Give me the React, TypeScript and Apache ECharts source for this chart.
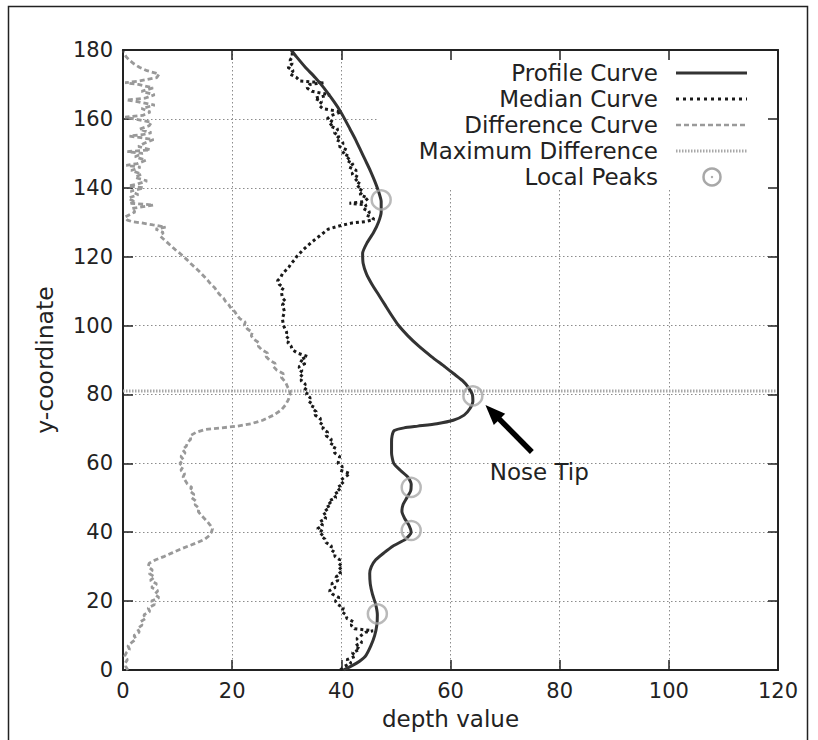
import React, { useEffect, useRef } from "react";
import * as echarts from "echarts";

// Axis ticks
const xTicks = [0, 20, 40, 60, 80, 100, 120];
const yTicks = [0, 20, 40, 60, 80, 100, 120, 140, 160, 180];

// Profile curve: depth value at each y-coordinate
const profileY = [0, 2, 4, 7, 10, 13, 16, 19, 22, 25, 28, 30, 32, 34, 36, 38, 40, 42, 44, 46, 48, 50, 52, 54, 56, 58, 60, 63, 66, 68, 69.5, 70.3, 70.8, 71.5, 72.5, 74, 76, 78, 80, 82, 84, 86, 88, 91, 94, 97, 100, 103, 106, 109, 112, 115, 118, 121, 124, 127, 130, 133, 136, 139, 142, 145, 148, 151, 154, 157, 160, 163, 166, 169, 172, 175, 178, 180];
const profileX = [40.4, 42.8, 44.4, 45.4, 46.1, 46.5, 46.6, 46.3, 45.7, 45.3, 45.2, 45.5, 46.3, 47.8, 49.5, 51.8, 52.8, 52.4, 51.6, 51.1, 51.3, 52.0, 52.7, 52.8, 52.2, 50.8, 49.6, 49.2, 49.2, 49.3, 49.7, 51.5, 54.0, 57.5, 60.5, 62.5, 63.6, 64.1, 64.0, 63.3, 62.2, 60.6, 59.0, 56.5, 54.2, 52.2, 50.5, 49.2, 48.0, 46.8, 45.6, 44.6, 44.0, 43.9, 44.7, 45.9, 46.8, 47.3, 47.3, 46.8, 46.1, 45.3, 44.4, 43.5, 42.6, 41.6, 40.6, 39.5, 38.2, 36.8, 35.2, 33.4, 31.8, 30.8];

// Median curve
const medianY = [0, 1, 2, 3, 4, 5, 6, 7, 8, 9, 10, 11, 11.4, 12, 13, 14, 15, 16, 17, 18, 19, 20, 21, 22, 23, 24, 25, 26, 27, 28, 29, 30, 31, 32, 33, 34, 35, 36, 37, 38, 39, 40, 41, 42, 43, 44, 45, 46, 47, 48, 49, 50, 51, 52, 53, 54, 55, 56, 57, 58, 59, 60, 62, 63, 64, 65, 66, 67, 68, 69, 70, 71, 72, 73, 74, 75, 76, 77, 78, 79, 80, 81, 82, 83, 84, 85, 86, 87, 88, 89, 90, 91, 92, 93, 94, 95, 96, 97, 98, 100, 102, 104, 106, 107, 108, 110, 111, 112, 113, 114, 115, 116, 117, 118, 119, 120, 121, 122, 123, 124, 125, 126, 127, 128, 129, 129.8, 130.2, 130.8, 131.5, 132, 133, 134, 135, 135.5, 136, 137, 138, 139, 140, 141, 142, 143, 144, 145, 146, 147, 148, 149, 150, 151, 152, 153, 154, 155, 156, 157, 158, 159, 160, 161, 162, 163, 164, 165, 166, 167, 168, 169, 170, 170.5, 171, 172, 173, 174, 175, 176, 177, 178, 180];
const medianX = [39.8, 40.5, 41.8, 41.0, 42.6, 42.0, 43.4, 42.5, 43.8, 42.8, 43.6, 44.5, 45.8, 42.4, 41.8, 42.2, 41.0, 40.9, 40.0, 40.4, 39.4, 38.9, 39.6, 38.4, 37.8, 38.9, 38.2, 39.4, 39.0, 39.9, 39.4, 40.2, 39.5, 39.7, 38.8, 38.9, 38.0, 38.2, 37.2, 37.0, 36.2, 36.8, 35.6, 36.6, 36.0, 37.2, 36.6, 37.5, 37.0, 38.2, 37.6, 39.0, 38.6, 39.8, 39.2, 40.4, 39.8, 40.6, 41.6, 39.8, 40.2, 39.4, 39.7, 38.8, 38.6, 38.9, 37.8, 38.2, 37.2, 37.5, 36.6, 36.8, 35.9, 36.2, 35.2, 35.4, 34.6, 34.9, 34.0, 34.3, 33.6, 33.9, 33.1, 33.4, 32.6, 33.0, 32.3, 32.8, 32.2, 33.4, 32.4, 33.8, 32.0, 31.0, 30.8, 30.2, 30.5, 29.8, 30.0, 29.4, 29.2, 29.6, 29.2, 29.8, 29.2, 29.0, 29.4, 28.6, 28.3, 28.9, 29.2, 29.8, 30.4, 30.8, 31.4, 31.8, 32.4, 33.0, 33.7, 34.4, 35.2, 36.0, 36.8, 37.6, 39.8, 42.0, 44.5, 46.0, 45.5, 44.6, 45.2, 44.0, 44.6, 41.5, 44.2, 44.9, 43.4, 44.0, 42.9, 43.6, 42.5, 43.2, 41.9, 42.8, 41.4, 42.2, 40.9, 41.6, 40.2, 41.0, 39.6, 40.4, 39.0, 39.6, 38.7, 39.4, 37.8, 38.6, 37.4, 38.2, 40.0, 36.6, 35.9, 36.4, 35.1, 37.9, 34.6, 33.7, 34.2, 36.8, 32.4, 31.8, 30.6, 31.2, 30.2, 31.0, 30.6, 31.0, 31.0];

// Difference curve (profile minus median)
const diffY = [0, 1, 2, 3, 4, 5, 6, 7, 8, 9, 10, 11, 12, 13, 14, 15, 16, 17, 18, 19, 20, 21, 22, 23, 24, 25, 26, 27, 28, 29, 30, 31, 32, 33, 34, 35, 36, 37, 38, 39, 40, 41, 42, 43, 44, 45, 46, 47, 48, 49, 50, 51, 52, 53, 54, 55, 56, 57, 58, 59, 60, 61, 62, 63, 64, 65, 66, 67, 68, 69, 69.8, 70.3, 70.8, 71.5, 72.5, 74, 75.5, 77, 78.5, 80, 81, 82, 83.5, 85, 86, 87, 88, 89, 90, 91, 92, 93, 94, 95, 96, 97, 98, 99, 100, 101, 102, 103, 104, 105, 106, 107, 108, 109, 110, 111, 112, 113, 114, 115, 116, 117, 118, 119, 120, 121, 122, 123, 124, 125, 126, 127, 128, 128.6, 129.2, 129.8, 130.2, 130.6, 131.5, 132, 133, 134, 135, 135.5, 136, 137, 138, 139, 140, 140.5, 141, 142, 143, 144, 145, 146, 146.5, 147, 148, 149, 150, 150.5, 151, 152, 153, 154, 155, 155.5, 156, 157, 158, 159, 160, 160.5, 161, 162, 163, 164, 165, 165.5, 166, 167, 168, 169, 170, 170.5, 171, 172, 173, 174, 175, 176, 177, 178, 179, 180];
const diffX = [0.9, 0.5, 0.4, 0.8, 0.3, 0.6, 1.2, 0.9, 1.6, 2.4, 2.0, 3.0, 2.6, 3.5, 3.2, 4.2, 3.8, 4.9, 4.6, 5.8, 5.2, 6.6, 5.8, 6.4, 5.2, 6.2, 5.0, 5.8, 4.8, 5.4, 4.6, 4.8, 6.0, 7.6, 9.0, 10.4, 12.0, 13.6, 15.0, 15.8, 16.2, 16.4, 16.0, 15.5, 14.9, 14.3, 13.8, 13.9, 13.2, 13.4, 12.6, 13.0, 12.2, 12.6, 11.8, 11.4, 11.0, 11.3, 10.6, 11.0, 10.4, 11.1, 10.6, 11.4, 10.9, 11.6, 11.8, 12.4, 12.3, 13.4, 15.0, 18.0, 21.0, 23.5, 25.6, 27.6, 29.0, 29.8, 30.3, 30.6, 30.6, 30.2, 29.8, 29.0, 29.4, 28.2, 27.6, 27.9, 26.8, 26.2, 26.5, 25.4, 24.8, 24.9, 24.0, 23.5, 23.7, 22.8, 22.2, 22.4, 21.4, 20.9, 20.5, 19.8, 19.4, 18.8, 18.4, 17.7, 17.2, 16.8, 16.1, 15.6, 15.0, 14.4, 13.8, 13.1, 12.4, 11.8, 11.1, 10.4, 9.6, 8.9, 8.2, 7.5, 6.8, 7.4, 6.0, 7.8, 5.5, 3.4, 1.6, 0.8, 0.4, 1.0, 2.2, 1.6, 5.6, 1.4, 2.0, 1.0, 2.8, 1.4, 3.8, 1.0, 2.5, 4.4, 2.2, 3.4, 1.5, 3.2, 0.6, 2.6, 4.2, 2.2, 3.6, 0.8, 5.0, 2.8, 4.0, 5.6, 1.2, 3.8, 5.2, 3.0, 4.8, 5.2, 2.0, 0.4, 3.6, 5.0, 3.4, 5.8, 2.6, 0.6, 4.0, 5.8, 3.4, 5.5, 2.8, 0.4, 3.0, 6.2, 6.6, 4.4, 3.0, 2.0, 1.2, 0.6, 0.2, 0.0];

// Level of the maximum difference
const maxDiffY = 81;

// Local peaks of the profile curve
const peakX = [46.6, 52.8, 52.8, 64.1, 47.3];
const peakY = [16.3, 40.5, 53, 79.6, 136.5];

// Nose tip annotation (data coordinates)
const noseArrowFrom = [74.9, 63.3];
const noseArrowTo = [66.4, 76.9];
const noseLabelAt = [67.2, 57.6];

const legendNames = ["Profile Curve", "Median Curve", "Difference Curve", "Maximum Difference", "Local Peaks"];

const FONT = "DejaVu Sans";
const G = { left: 123, top: 50, width: 655, height: 620 };
const X_MIN = 0, X_MAX = 120, Y_MIN = 0, Y_MAX = 180;
const px = (x: number) => G.left + ((x - X_MIN) / (X_MAX - X_MIN)) * G.width;
const py = (y: number) => G.top + G.height - ((y - Y_MIN) / (Y_MAX - Y_MIN)) * G.height;

const zip = (xs: number[], ys: number[]) => xs.map((x, i) => [x, ys[i]]);

export default function App() {
  const ref = useRef<HTMLDivElement>(null);

  useEffect(() => {
    if (!ref.current) return;
    const chart = echarts.init(ref.current, null, { renderer: "svg" });

    const axisLine = { show: true, onZero: false, lineStyle: { color: "#222", width: 2 } };
    const axisTick = { show: true, inside: true, length: 10, lineStyle: { color: "#222", width: 1.5 } };
    const gridLine = { show: true, lineStyle: { color: "#8c8c8c", width: 1, type: [1.5, 2.5] as any } };

    // Legend drawn as right-aligned labels with sample strokes
    const legendRows = [73, 99, 125, 151, 177];
    const sampleL = 676, sampleR = 747;
    const legendEls: any[] = [];
    legendNames.forEach((name, i) => {
      legendEls.push({
        type: "text", z: 10, x: 658, y: legendRows[i],
        style: { text: name, fill: "#222", font: `23px "${FONT}"`, align: "right", verticalAlign: "middle" },
      });
    });
    legendEls.push({ type: "line", z: 10, shape: { x1: sampleL, y1: legendRows[0], x2: sampleR, y2: legendRows[0] }, style: { stroke: "#333", lineWidth: 3 } });
    legendEls.push({ type: "line", z: 10, shape: { x1: sampleL, y1: legendRows[1], x2: sampleR, y2: legendRows[1] }, style: { stroke: "#1a1a1a", lineWidth: 3, lineDash: [3, 4] } });
    legendEls.push({ type: "line", z: 10, shape: { x1: sampleL, y1: legendRows[2], x2: sampleR, y2: legendRows[2] }, style: { stroke: "#9a9a9a", lineWidth: 2.5, lineDash: [5, 3] } });
    legendEls.push({ type: "line", z: 10, shape: { x1: sampleL, y1: legendRows[3], x2: sampleR, y2: legendRows[3] }, style: { stroke: "#a8a8a8", lineWidth: 3, lineDash: [1.5, 1.5] } });
    legendEls.push({ type: "circle", z: 10, shape: { cx: 712, cy: legendRows[4], r: 8.5 }, style: { fill: "none", stroke: "#a8a8a8", lineWidth: 2.5 } });
    legendEls.push({ type: "circle", z: 10, shape: { cx: 712, cy: legendRows[4], r: 1.2 }, style: { fill: "#a8a8a8" } });

    // Nose tip arrow
    const ax1 = px(noseArrowFrom[0]), ay1 = py(noseArrowFrom[1]);
    const ax2 = px(noseArrowTo[0]), ay2 = py(noseArrowTo[1]);
    const dx = ax2 - ax1, dy = ay2 - ay1;
    const len = Math.sqrt(dx * dx + dy * dy);
    const ux = dx / len, uy = dy / len;
    const headLen = 20, headHalf = 8;
    const bx = ax2 - ux * headLen, by = ay2 - uy * headLen;
    const nx = -uy, ny = ux;

    const graphic: any[] = [
      // opaque key area hides the grid behind the legend
      { type: "rect", z: 1, silent: true, shape: { x: 378, y: 51, width: 399, height: 139 }, style: { fill: "#fff" } },
      ...legendEls,
      { type: "line", z: 10, shape: { x1: ax1, y1: ay1, x2: bx + ux * 2, y2: by + uy * 2 }, style: { stroke: "#000", lineWidth: 5.5 } },
      {
        type: "polygon", z: 10,
        shape: { points: [[ax2, ay2], [bx + nx * headHalf, by + ny * headHalf], [bx - nx * headHalf, by - ny * headHalf]] },
        style: { fill: "#000" },
      },
      {
        type: "text", z: 10, x: px(noseLabelAt[0]), y: py(noseLabelAt[1]),
        style: { text: "Nose Tip", fill: "#222", font: `23px "${FONT}"`, align: "left", verticalAlign: "middle" },
      },
      // outer frame
      { type: "rect", z: 10, silent: true, shape: { x: 8.5, y: 6.5, width: 799, height: 760 }, style: { fill: "none", stroke: "#222", lineWidth: 1.5 } },
    ];

    chart.setOption({
      animation: false,
      backgroundColor: "#fff",
      grid: { left: G.left, top: G.top, width: G.width, height: G.height, containLabel: false },
      xAxis: [
        {
          type: "value", min: X_MIN, max: X_MAX, interval: xTicks[1] - xTicks[0], position: "bottom",
          name: "depth value", nameLocation: "middle", nameGap: 37,
          nameTextStyle: { fontSize: 23, color: "#222", fontFamily: FONT },
          axisLine, axisTick,
          axisLabel: { fontSize: 21, color: "#222", fontFamily: FONT, margin: 10 },
          splitLine: gridLine,
        },
        {
          type: "value", min: X_MIN, max: X_MAX, interval: xTicks[1] - xTicks[0], position: "top", z: 5,
          axisLine, axisTick, axisLabel: { show: false }, splitLine: { show: false },
        },
      ],
      yAxis: [
        {
          type: "value", min: Y_MIN, max: Y_MAX, interval: yTicks[1] - yTicks[0], position: "left",
          name: "y-coordinate", nameLocation: "middle", nameGap: 66, nameRotate: 90,
          nameTextStyle: { fontSize: 23.5, color: "#222", fontFamily: FONT },
          axisLine, axisTick,
          axisLabel: { fontSize: 21, color: "#222", fontFamily: FONT, margin: 10 },
          splitLine: gridLine,
        },
        {
          type: "value", min: Y_MIN, max: Y_MAX, interval: yTicks[1] - yTicks[0], position: "right", z: 5,
          axisLine, axisTick, axisLabel: { show: false }, splitLine: { show: false },
        },
      ],
      series: [
        {
          name: "Maximum Difference", type: "line", z: 2, symbol: "none",
          data: [[X_MIN, maxDiffY], [X_MAX, maxDiffY]],
          lineStyle: { color: "#a8a8a8", width: 3, type: [1.5, 1.5] },
        },
        {
          name: "Difference Curve", type: "line", z: 3, symbol: "none",
          data: zip(diffX, diffY),
          lineStyle: { color: "#999", width: 2.8, type: [5, 3] },
        },
        {
          name: "Median Curve", type: "line", z: 3, symbol: "none",
          data: zip(medianX, medianY),
          lineStyle: { color: "#1a1a1a", width: 3, type: [3, 3] },
        },
        {
          name: "Profile Curve", type: "line", z: 4, symbol: "none", smooth: 0.2,
          data: zip(profileX, profileY),
          lineStyle: { color: "#333", width: 3 },
        },
        {
          name: "Local Peaks", type: "scatter", z: 5, symbol: "circle", symbolSize: 19,
          data: zip(peakX, peakY),
          itemStyle: { color: "rgba(0,0,0,0)", borderColor: "#a8a8a8", borderWidth: 2.5 },
        },
      ],
      graphic,
    });

    return () => chart.dispose();
  }, []);

  return (
    <div
      ref={ref}
      style={{ position: "absolute", left: 0, top: 0, width: 818, height: 740, background: "#fff" }}
    />
  );
}
